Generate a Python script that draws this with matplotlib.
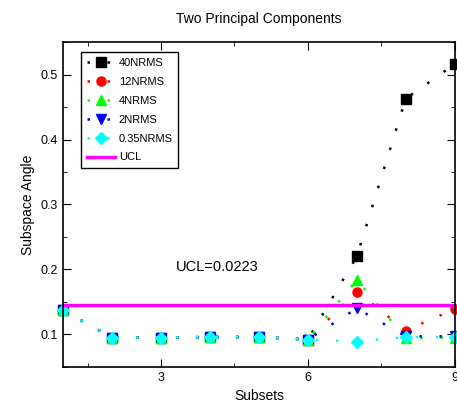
import numpy as np
import matplotlib
matplotlib.use("Agg")
import matplotlib.pyplot as plt
from matplotlib.ticker import MultipleLocator

plt.rcParams['font.family'] = ['Liberation Sans', 'DejaVu Sans']

subsets = [1, 2, 3, 4, 5, 6, 7, 8, 9]
nrms40 = [0.137, 0.095, 0.095, 0.096, 0.096, 0.092, 0.220, 0.463, 0.516]
nrms12 = [0.137, 0.095, 0.095, 0.096, 0.096, 0.092, 0.166, 0.106, 0.139]
nrms4 = [0.137, 0.095, 0.095, 0.096, 0.096, 0.092, 0.184, 0.094, 0.095]
nrms2 = [0.137, 0.095, 0.095, 0.096, 0.096, 0.092, 0.140, 0.097, 0.097]
nrms035 = [0.137, 0.095, 0.095, 0.096, 0.096, 0.092, 0.089, 0.096, 0.096]
ucl = 0.1445

series = [
    ("40NRMS", nrms40, "black", "s"),
    ("12NRMS", nrms12, "red", "o"),
    ("4NRMS", nrms4, "#00ff00", "^"),
    ("2NRMS", nrms2, "blue", "v"),
    ("0.35NRMS", nrms035, "cyan", "D"),
]

fig = plt.figure(figsize=(4.57, 4.09), dpi=100)
ax = fig.add_axes([0.138, 0.103, 0.857, 0.794])

for name, vals, col, mk in series:
    ax.plot(subsets, vals, color=col, marker=mk, markersize=6.5,
            linestyle=(0, (1, 7)), linewidth=1.8, label=name, clip_on=False)

ax.axhline(ucl, color="magenta", linewidth=2.5, label="UCL")
ax.text(3.3, 0.198, "UCL=0.0223", fontsize=10.5)

ax.set_xlim(1, 9)
ax.set_ylim(0.05, 0.55)
ax.xaxis.set_major_locator(MultipleLocator(3))
ax.xaxis.set_minor_locator(MultipleLocator(1.5))
ax.yaxis.set_major_locator(MultipleLocator(0.1))
ax.yaxis.set_minor_locator(MultipleLocator(0.05))
ax.tick_params(which="both", direction="in", top=True, right=True, labelsize=9)
ax.tick_params(which="major", length=6)
ax.tick_params(which="minor", length=3)
for s in ax.spines.values():
    s.set_linewidth(1.2)

ax.set_title("Two Principal Components", fontsize=10, pad=14)
ax.set_xlabel("Subsets", fontsize=10)
ax.set_ylabel("Subspace Angle", fontsize=10)

leg = ax.legend(loc="upper left", bbox_to_anchor=(0.04, 0.975), fontsize=8,
                fancybox=False, edgecolor="black", framealpha=1,
                handlelength=2.6, handletextpad=0.3, labelspacing=0.8,
                borderpad=0.5, borderaxespad=0.2)
leg.get_frame().set_linewidth(1)

fig.savefig("out.png", dpi=100)
